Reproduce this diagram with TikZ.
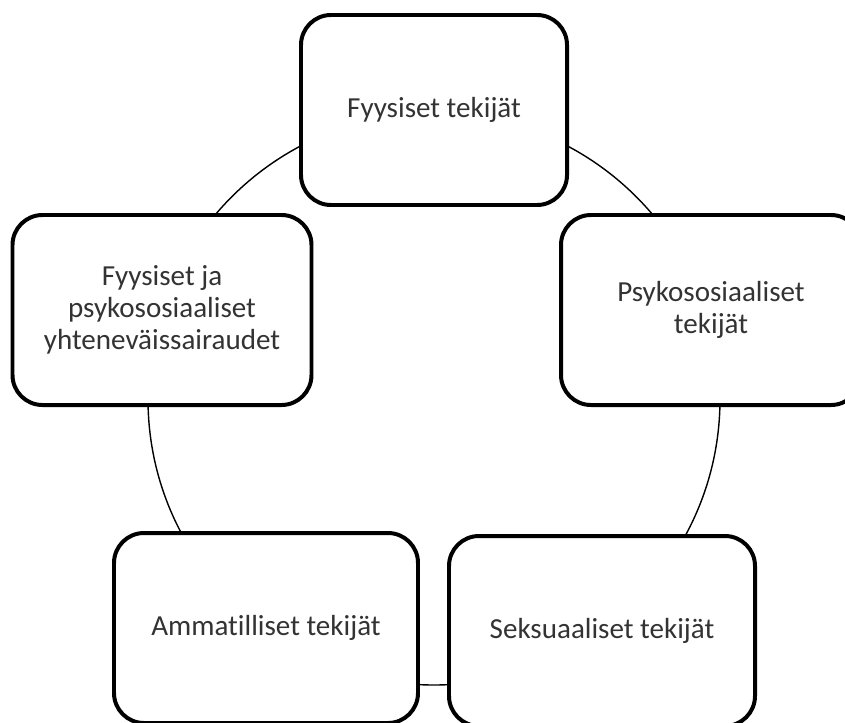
\documentclass[tikz,border=0pt]{standalone}
\usepackage{fontspec}
\setmainfont{Carlito}[Ligatures=NoCommon]
\tikzset{
	factor/.style={draw, line width=3.4pt, rounded corners=0.9cm, fill=white,
		align=center, text=black!80, inner sep=0pt,
		minimum height=190*0.03cm, font=\fontsize{24.8}{27.4}\selectfont},
	cycle/.style={line width=1.2pt}
}
\begin{document}
\begin{tikzpicture}[x=0.03cm, y=-0.03cm]
	\clip (0, 0) rectangle (845, 722);
	
	% circle behind the boxes
	\coordinate (mid) at (434, 399);
	\draw [cycle] (mid) circle [radius=286*0.03cm];
	
	\node [factor, minimum width=266*0.03cm] (fyys) at (434, 110) {Fyysiset tekijät};
	\node [factor, minimum width=300*0.03cm] (psyk) at (711, 310) {Psykososiaaliset\\tekijät};
	\node [factor, minimum width=306*0.03cm] (seks) at (602, 631) {Seksuaaliset tekijät};
	\node [factor, minimum width=304*0.03cm] (amma) at (266, 628) {Ammatilliset tekijät};
	\node [factor, minimum width=299*0.03cm] (yhte) at (162, 310) {Fyysiset ja\\psykososiaaliset\\yhteneväissairaudet};
	
\end{tikzpicture}
\end{document}
